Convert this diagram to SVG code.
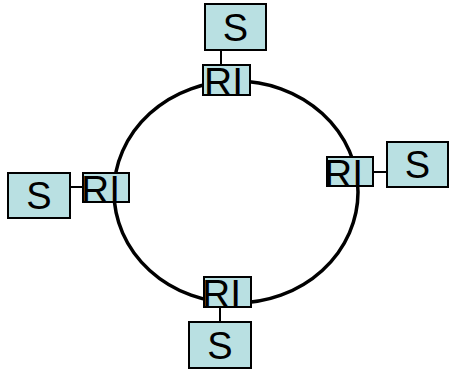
<svg xmlns="http://www.w3.org/2000/svg" width="451" height="371" viewBox="0 0 451 371">
  <style>
    .box { fill: #b9e0e2; stroke: #000; stroke-width: 2; }
    .lbl { font-family: "Liberation Sans", Arial, sans-serif; fill: #000; }
    .ri { font-size: 39px; }
    .s { font-size: 38px; }
    .link { stroke: #000; stroke-width: 2; fill: none; }
    .ring { stroke: #000; stroke-width: 3.5; fill: none; }
  </style>
  <rect width="451" height="371" fill="#fff"/>
  <g id="connectors">
    <ellipse class="ring" cx="236" cy="192" rx="122" ry="111"/>
    <line class="link" x1="221" y1="50" x2="221" y2="65"/>
    <line class="link" x1="70" y1="187" x2="83" y2="187"/>
    <line class="link" x1="373" y1="172" x2="387" y2="172"/>
    <line class="link" x1="220" y1="307" x2="220" y2="322"/>
  </g>
  <g id="ri-top">
    <rect class="box" x="203" y="65" width="47" height="30"/>
    <text class="lbl ri" x="204" y="95">RI</text>
  </g>
  <g id="ri-left">
    <rect class="box" x="83" y="173" width="46" height="29"/>
    <text class="lbl ri" x="81" y="203">RI</text>
  </g>
  <g id="ri-right">
    <rect class="box" x="327" y="157" width="46" height="29"/>
    <text class="lbl ri" x="324" y="187">RI</text>
  </g>
  <g id="ri-bottom">
    <rect class="box" x="204" y="277" width="47" height="30"/>
    <text class="lbl ri" x="202" y="307">RI</text>
  </g>
  <g id="s-top">
    <rect class="box" x="205" y="4" width="61" height="46"/>
    <text class="lbl s" x="235.5" y="41" text-anchor="middle">S</text>
  </g>
  <g id="s-left">
    <rect class="box" x="8" y="173" width="62" height="45"/>
    <text class="lbl s" x="39" y="209" text-anchor="middle">S</text>
  </g>
  <g id="s-right">
    <rect class="box" x="387" y="142" width="61" height="45"/>
    <text class="lbl s" x="417.5" y="178" text-anchor="middle">S</text>
  </g>
  <g id="s-bottom">
    <rect class="box" x="189" y="322" width="62" height="46"/>
    <text class="lbl s" x="220" y="359" text-anchor="middle">S</text>
  </g>
</svg>
